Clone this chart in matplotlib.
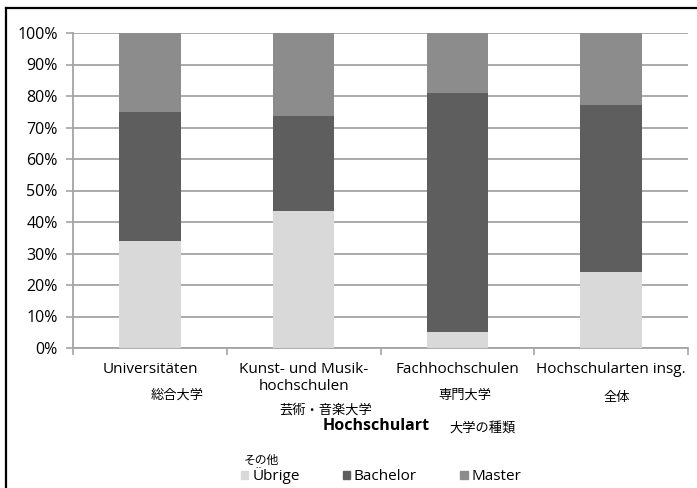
import matplotlib
matplotlib.use('Agg')
import matplotlib.pyplot as plt
from matplotlib.lines import Line2D
from matplotlib.patches import Patch
import numpy as np

plt.rcParams['font.family'] = ['Open Sans', 'Noto Sans CJK JP', 'DejaVu Sans']

# data (shares in %)
categories = ['Universitäten', 'Kunst- und Musik-\nhochschulen', 'Fachhochschulen', 'Hochschularten insg.']
jp_labels = ['総合大学', '芸術・音楽大学', '専門大学', '全体']
uebrige = [34, 43.5, 5, 24]
bachelor = [41, 30, 76, 53]
master = [25, 26.5, 19, 23]
series_names = ['Übrige', 'Bachelor', 'Master']
colors = ['#d9d9d9', '#5e5e5e', '#8c8c8c']

fig = plt.figure(figsize=(6.97, 4.88), dpi=100)
ax = fig.add_axes([73/697, 1-348/488, (688-73)/697, (348-33)/488])

x = np.arange(len(categories))
w = 0.4
bottom = np.zeros(len(categories))
for vals, c in zip([uebrige, bachelor, master], colors):
    ax.bar(x, vals, w, bottom=bottom, color=c, zorder=3)
    bottom += np.array(vals)

ax.set_xlim(-0.5, 3.5)
ax.set_ylim(0, 100)
ax.set_yticks(np.arange(0, 101, 10))
ax.set_yticklabels([f'{v}%' for v in range(0, 101, 10)], fontsize=11.5)
ax.yaxis.grid(True, color='#a4a4a4', linewidth=1.3, zorder=0)
ax.tick_params(axis='y', length=5, width=1.2, color='#a4a4a4', pad=6)

ax.set_xticks(x)
ax.set_xticklabels(categories, fontsize=11, linespacing=1.15)
ax.tick_params(axis='x', which='major', length=0, pad=10)
ax.set_xticks(np.arange(-0.5, 4, 1), minor=True)
ax.tick_params(axis='x', which='minor', length=5, width=1.2, color='#a4a4a4')

for s in ['top', 'right']:
    ax.spines[s].set_visible(False)
for s in ['left', 'bottom']:
    ax.spines[s].set_color('#a4a4a4')
    ax.spines[s].set_linewidth(1.3)

# japanese annotations
jp_pos = [(177, 395), (326, 410), (465, 395), (617, 397)]
for t, (px, py) in zip(jp_labels, jp_pos):
    fig.text(px/697, 1-py/488, t, fontsize=9.5, ha='center', va='center')

fig.text(376/697, 1-426/488, 'Hochschulart', fontsize=11.5, fontweight='bold', ha='center', va='center')
fig.text(483/697, 1-428/488, '大学の種類', fontsize=9.5, ha='center', va='center')
fig.text(261/697, 1-460/488, 'その他', fontsize=8.5, ha='center', va='center')

handles = [Patch(color=c) for c in colors]
fig.legend(handles, series_names, loc='center', bbox_to_anchor=(381/697, 1-476/488),
           ncol=3, frameon=False, fontsize=11, handlelength=0.5, handleheight=0.5,
           handletextpad=0.25, columnspacing=2.8)

# frame lines (left and top)
fig.add_artist(Line2D([6/697, 6/697], [0, 1-8/488], transform=fig.transFigure, color='black', linewidth=1.6))
fig.add_artist(Line2D([6/697, 1], [1-8/488, 1-8/488], transform=fig.transFigure, color='black', linewidth=1.6))

fig.savefig('out.png', dpi=100)
